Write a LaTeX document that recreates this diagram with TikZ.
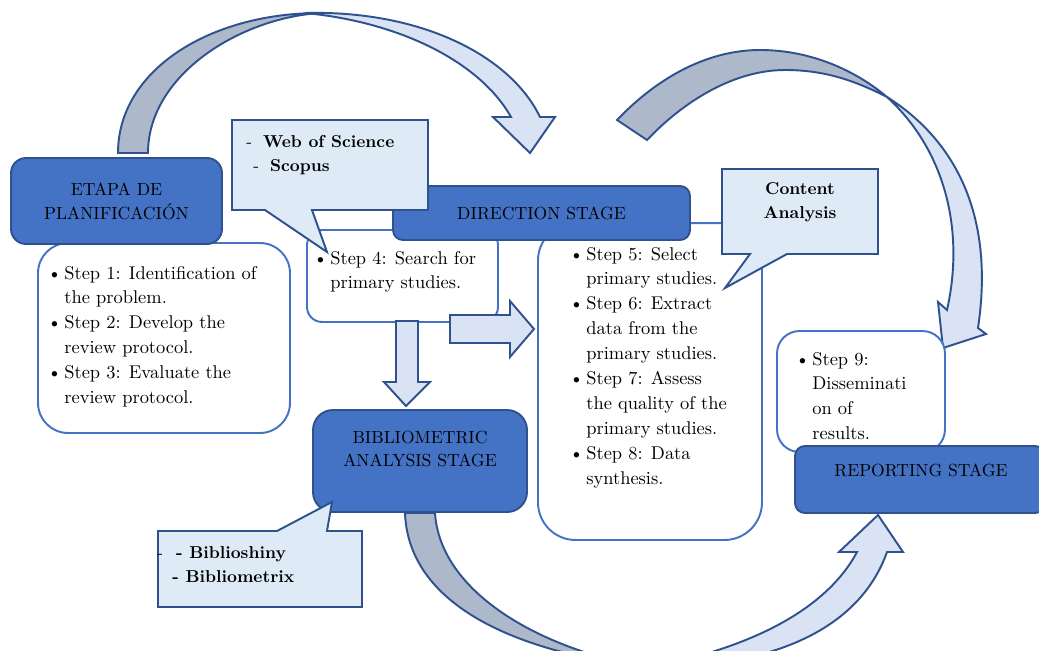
\documentclass[tikz,border=0pt]{standalone}
\usepackage{tikz}
\usetikzlibrary{positioning, calc}

\definecolor{stageBlue}{HTML}{4472C4}
\definecolor{edgeBlue}{HTML}{2F528F}
\definecolor{paleBlue}{HTML}{DEEBF7}
\definecolor{bandBlue}{HTML}{DAE3F3}
\definecolor{bandGrey}{HTML}{ADB9CA}

\begin{document}
\begin{tikzpicture}[
    x=0.02cm, y=-0.02cm,
    stage/.style={rectangle, draw=edgeBlue, line width=1.1pt, fill=stageBlue, align=center, inner sep=0pt, font=\fontsize{10}{13.6}\selectfont},
    stagetext/.style={align=center, inner sep=0pt, font=\fontsize{10}{13.6}\selectfont},
    stepbox/.style={rectangle, draw=stageBlue, line width=1.1pt, fill=white, inner sep=0pt},
    steptext/.style={anchor=base west, inner sep=0pt, font=\fontsize{10.5}{14.2}\selectfont},
    callout/.style={draw=edgeBlue, line width=1.1pt, fill=paleBlue, line join=miter},
    callouttext/.style={inner sep=0pt, font=\fontsize{9.8}{13.6}\selectfont},
    band/.style={draw=edgeBlue, line width=1.1pt, fill=bandBlue, line join=miter},
    backband/.style={band, fill=bandGrey}
]
\useasboundingbox (0,0) rectangle (1039,650);
\fill[white] (0,0) rectangle (1039,650);

\begin{scope}
\clip (0,0) rectangle (1039,650);

% curved arrow: planning -> direction
\draw[backband] (118,153) .. controls (118,70) and (210,13) .. (320,13)
    .. controls (240,18) and (148,75) .. (148,153) -- cycle;
\draw[band] (305,13) .. controls (420,10) and (510,55) .. (540,117)
    -- (555,117) -- (530,153) -- (493,117) -- (511,117)
    .. controls (480,62) and (400,22) .. (305,13) -- cycle;

% curved arrow: direction -> reporting
\draw[backband] (617,120) .. controls (660,75) and (710,50) .. (760,50)
    .. controls (810,50) and (855,70) .. (887,97)
    .. controls (850,78) and (820,70) .. (785,70)
    .. controls (735,70) and (685,100) .. (647,140) -- cycle;
\draw[band] (887,97) .. controls (955,140) and (995,215) .. (978,328)
    -- (986,334) -- (943,348) -- (938,302) -- (947,310)
    .. controls (965,230) and (945,150) .. (887,97) -- cycle;

% curved arrow: bibliometric -> reporting
\draw[backband] (405,513) .. controls (408,595) and (495,650) .. (650,668)
    .. controls (540,650) and (440,592) .. (435,513) -- cycle;
\draw[band] (645,668) .. controls (745,650) and (825,612) .. (857,552)
    -- (839,552) -- (878,515) -- (903,552) -- (887,552)
    .. controls (860,628) and (775,668) .. (645,668) -- cycle;

% planning stage
\node[stepbox, minimum width=5.04cm, minimum height=3.8cm, rounded corners=0.6cm] (steps13) at (164,338) {};
\node[stage, minimum width=4.22cm, minimum height=1.72cm, rounded corners=0.3cm] (planning) at (116.5,201) {ETAPA DE\\PLANIFICACIÓN};
\node[steptext] (list13) at (47,279) {\begin{tabular}[t]{@{}p{0.34cm}@{}l@{}}
    \textbullet & Step 1: Identification of\\ & the problem.\\
    \textbullet & Step 2: Develop the\\ & review protocol.\\
    \textbullet & Step 3: Evaluate the\\ & review protocol.
\end{tabular}};

% search and direction stage
\node[stepbox, minimum width=3.82cm, minimum height=1.84cm, rounded corners=0.3cm] (step4) at (402.5,276) {};
\node[steptext] (list4) at (313,264) {\begin{tabular}[t]{@{}p{0.34cm}@{}l@{}}
    \textbullet & Step 4: Search for\\ & primary studies.
\end{tabular}};
\node[stepbox, minimum width=4.48cm, minimum height=6.34cm, rounded corners=0.75cm] (steps58) at (650,381.5) {};
\node[steptext] (list58) at (569,260) {\begin{tabular}[t]{@{}p{0.34cm}@{}l@{}}
    \textbullet & Step 5: Select\\ & primary studies.\\
    \textbullet & Step 6: Extract\\ & data from the\\ & primary studies.\\
    \textbullet & Step 7: Assess\\ & the quality of the\\ & primary studies.\\
    \textbullet & Step 8: Data\\ & synthesis.
\end{tabular}};
\node[stage, minimum width=5.94cm, minimum height=1.08cm, rounded corners=0.2cm] (direction) at (541.5,213) {DIRECTION STAGE};

% databases callout
\draw[callout] (232,120) -- (428,120) -- (428,210) -- (312,210) -- (327,252)
    -- (265,210) -- (232,210) -- cycle;
\node[callouttext, anchor=base west, align=left] (databases) at (246,171)
    {-\hspace*{0.22cm}\textbf{Web of Science}\\\hspace*{0.14cm}-\hspace*{0.22cm}\textbf{Scopus}};

% content analysis callout
\draw[callout] (722,169) -- (878,169) -- (878,254) -- (787,254) -- (725,288)
    -- (750,254) -- (722,254) -- cycle;
\node[callouttext, align=center] (content) at (800,202.5) {\textbf{Content}\\\textbf{Analysis}};

% block arrows
\draw[band] (396,321) -- (418,321) -- (418,382) -- (430,382) -- (406,406)
    -- (384,382) -- (396,382) -- cycle;
\draw[band] (450,315) -- (510,315) -- (510,301) -- (534,329) -- (510,357)
    -- (510,343) -- (450,343) -- cycle;

% bibliometric stage
\node[stage, minimum width=4.28cm, minimum height=2.04cm, rounded corners=0.4cm] (biblio) at (420,461) {};
\node[stagetext] (biblioText) at (420,449) {BIBLIOMETRIC\\ANALYSIS STAGE};
\draw[callout] (158,531) -- (277,531) -- (332,502) -- (327,531) -- (362,531)
    -- (362,607) -- (158,607) -- cycle;
\node[callouttext, anchor=base west, align=left] (tools) at (157,582)
    {-\hspace*{0.26cm}\textbf{- Biblioshiny}\\\hspace*{0.3cm}\textbf{- Bibliometrix}};

% reporting stage
\node[stepbox, minimum width=3.36cm, minimum height=2.42cm, rounded corners=0.45cm] (step9) at (861,391.5) {};
\node[steptext] (list9) at (795,365) {\begin{tabular}[t]{@{}p{0.34cm}@{}l@{}}
    \textbullet & Step 9:\\ & Disseminati\\ & on of\\ & results.
\end{tabular}};
\node[stage, minimum width=5.0cm, minimum height=1.34cm, rounded corners=0.2cm] (reporting) at (920,479.5) {};
\node[stagetext] (reportingText) at (921,470) {REPORTING STAGE};
\end{scope}

\end{tikzpicture}
\end{document}
